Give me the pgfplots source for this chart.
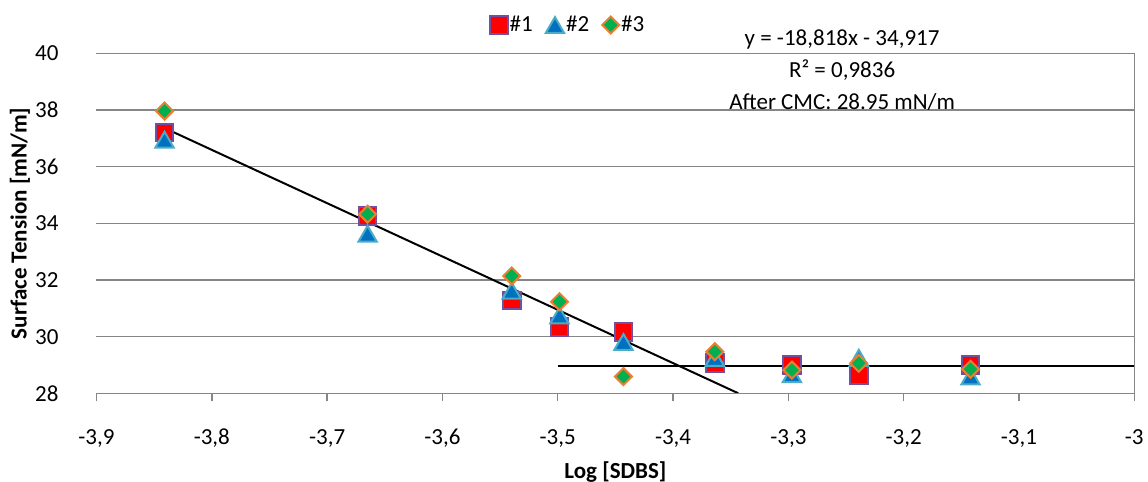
\documentclass[border=0pt]{standalone}
\usepackage{pgfplots}
\pgfplotsset{compat=1.18}
\usepackage{fontspec}
\setmainfont{Carlito}
\definecolor{c1fill}{RGB}{255,0,0}
\definecolor{c1edge}{RGB}{112,80,160}
\definecolor{c2fill}{RGB}{0,112,192}
\definecolor{c2edge}{RGB}{75,172,198}
\definecolor{c3fill}{RGB}{0,176,80}
\definecolor{c3edge}{RGB}{237,125,49}
\definecolor{gridgray}{RGB}{134,134,134}
\begin{document}
\fontsize{11.5}{14}\selectfont
\begin{tikzpicture}
\begin{axis}[
  at={(0,0)}, anchor=south west,
  scale only axis, width=518.9pt, height=170pt,
  xmin=-3.9, xmax=-3.0, ymin=28, ymax=40,
  xtick={-3.9,-3.8,-3.7,-3.6,-3.5,-3.4,-3.3,-3.2,-3.1,-3.0},
  xticklabels={{-3,9},{-3,8},{-3,7},{-3,6},{-3,5},{-3,4},{-3,3},{-3,2},{-3,1},{-3}},
  ytick={28,30,32,34,36,38,40},
  yticklabels={28,30,32,34,36,38,40},
  axis line style={draw=none},
  ymajorgrids, grid style={gridgray, line width=0.75pt},
  xtick pos=bottom, ytick pos=left, tick align=outside, major tick length=4pt,
  x tick style={gridgray, line width=0.75pt},
  y tick style={draw=none},
  yticklabel style={anchor=east, xshift=-11pt},
  xticklabel style={anchor=base, yshift=-21.7pt},
  xlabel={\bfseries Log [SDBS]},
  ylabel={\bfseries Surface Tension [mN/m]},
  ylabel style={at={(axis description cs:-0.0737,0.5)}, anchor=center},
  xlabel style={at={(axis description cs:0.5,-0.231)}, anchor=center},
  legend columns=3,
  legend style={at={(0.455,1.083)}, anchor=center, draw=none, fill=none,
    inner sep=0pt, nodes={inner xsep=1.5pt},
    /tikz/every odd column/.append style={column sep=-0.5pt},
    /tikz/every even column/.append style={column sep=5pt}},
  lgmark/.style={legend image code/.code={\draw[##1] plot coordinates {(0pt,0pt)};}},
  clip=false,
]
\addplot[only marks, lgmark, mark=square*, mark size=4.4pt,
  mark options={fill=c1fill, draw=c1edge, line width=1pt}] coordinates {
(-3.8410,37.20) (-3.6649,34.26) (-3.5399,31.27) (-3.4985,30.35) (-3.4430,30.17)
(-3.3638,29.06) (-3.2969,29.00) (-3.2389,28.65) (-3.1420,29.00)};
\addlegendentry{\#1}
\addplot[only marks, lgmark, mark=triangle*, mark size=5.3pt,
  mark options={fill=c2fill, draw=c2edge, line width=1pt, yshift=-1.3pt}] coordinates {
(-3.8410,36.95) (-3.6649,33.63) (-3.5399,31.62) (-3.4985,30.75) (-3.4430,29.81)
(-3.3638,29.25) (-3.2969,28.67) (-3.2389,29.25) (-3.1420,28.59)};
\addlegendentry{\#2}
\addplot[only marks, lgmark, mark=square*, mark size=3.0pt,
  mark options={fill=c3fill, draw=c3edge, line width=1pt, rotate=45}] coordinates {
(-3.8410,37.96) (-3.6649,34.32) (-3.5399,32.14) (-3.4985,31.23) (-3.4430,28.59)
(-3.3638,29.47) (-3.2969,28.82) (-3.2389,29.06) (-3.1420,28.85)};
\addlegendentry{\#3}
\addplot[black, line width=1pt, forget plot] coordinates {(-3.8410,37.363) (-3.3434,28.0)};
\addplot[black, line width=1pt, forget plot] coordinates {(-3.5,28.95) (-3.0,28.95)};
\draw[gridgray, line width=0.75pt] (rel axis cs:0,0) -- (rel axis cs:1,0) -- (rel axis cs:1,1);
\node[anchor=base] at (axis cs:-3.2534,40.27) {y = -18,818x - 34,917};
\node[anchor=base] at (axis cs:-3.2534,39.15) {R² = 0,9836};
\node[anchor=base] at (axis cs:-3.2534,38.00) {After CMC: 28.95 mN/m};
\end{axis}
\pgfresetboundingbox
\path (-48.25pt,-44.35pt) rectangle (525.75pt,196.65pt);
\end{tikzpicture}
\end{document}
